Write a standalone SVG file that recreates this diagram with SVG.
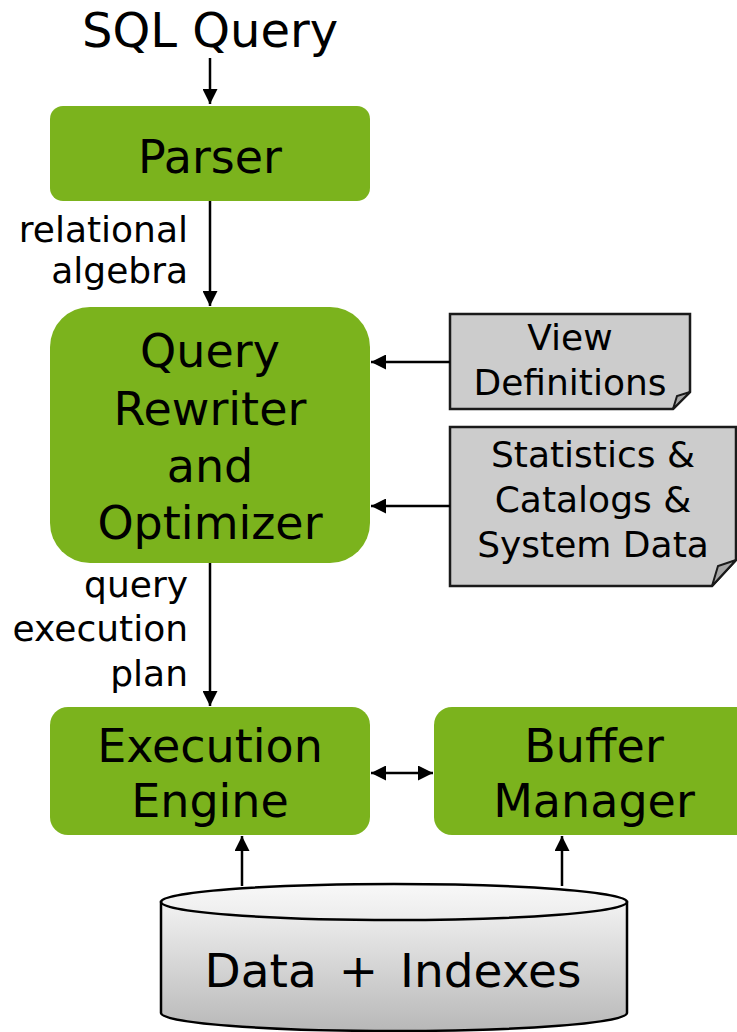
<svg xmlns="http://www.w3.org/2000/svg" width="737" height="1032" viewBox="0 0 737 1032">
  <style>
    text { font-family: "DejaVu Sans", Verdana, sans-serif; fill: #000; }
    .big { font-size: 46px; text-anchor: middle; }
    .lbl { font-size: 36px; text-anchor: end; }
    .doc-t { font-size: 36px; text-anchor: middle; }
    .box { fill: #7bb31d; }
    .doc { fill: #cccccc; stroke: #1a1a1a; stroke-width: 2.5; }
    .fold { fill: #a6a6a6; stroke: #1a1a1a; stroke-width: 2; }
    .wire { stroke: #000; stroke-width: 2.5; fill: none; }
  </style>
  <defs>
    <marker id="head" viewBox="0 0 10 10" refX="10" refY="5" markerWidth="6" markerHeight="6" markerUnits="strokeWidth" orient="auto-start-reverse">
      <path d="M0,0 L10,5 L0,10 z" fill="#000"/>
    </marker>
    <linearGradient id="cylBody" x1="0" y1="0" x2="0" y2="1">
      <stop offset="0" stop-color="#f2f2f2"/>
      <stop offset="1" stop-color="#b8b8b8"/>
    </linearGradient>
    <linearGradient id="cylTop" x1="0" y1="0" x2="0" y2="1">
      <stop offset="0" stop-color="#f8f8f8"/>
      <stop offset="1" stop-color="#ececec"/>
    </linearGradient>
  </defs>

  <g id="input">
    <text x="210" y="47" style="font-size:48px;text-anchor:middle">SQL Query</text>
  </g>

  <g id="parser">
    <rect class="box" x="50" y="106" width="320" height="95" rx="13"/>
    <text class="big" x="210" y="173">Parser</text>
  </g>

  <g id="optimizer">
    <rect class="box" x="50" y="307" width="320" height="256" rx="40"/>
    <text class="big" x="210" y="367">Query</text>
    <text class="big" x="210" y="425">Rewriter</text>
    <text class="big" x="210" y="482">and</text>
    <text class="big" x="210" y="539">Optimizer</text>
  </g>

  <g id="view-definitions">
    <path class="doc" d="M450,314 H690 V392 L673,409 H450 Z"/>
    <path class="fold" d="M690,392 L673,409 L677,396 Z"/>
    <text class="doc-t" x="570" y="350">View</text>
    <text class="doc-t" x="570" y="395">Definitions</text>
  </g>

  <g id="catalogs">
    <path class="doc" d="M450,427 H736 V560 L712,586 H450 Z"/>
    <path class="fold" d="M736,560 L712,586 L718,566 Z"/>
    <text class="doc-t" x="593" y="467">Statistics &amp;</text>
    <text class="doc-t" x="593" y="512">Catalogs &amp;</text>
    <text class="doc-t" x="593" y="557">System Data</text>
  </g>

  <g id="execution-engine">
    <rect class="box" x="50" y="707" width="320" height="128" rx="18"/>
    <text class="big" x="210" y="762">Execution</text>
    <text class="big" x="210" y="817">Engine</text>
  </g>

  <g id="buffer-manager">
    <rect class="box" x="434" y="707" width="320" height="128" rx="18"/>
    <text class="big" x="594" y="762">Buffer</text>
    <text class="big" x="594" y="817">Manager</text>
  </g>

  <g id="storage">
    <path d="M161,902 V1013 A233,18 0 0 0 627,1013 V902 Z" fill="url(#cylBody)" stroke="#000" stroke-width="2.5"/>
    <ellipse cx="394" cy="902" rx="233" ry="18" fill="url(#cylTop)" stroke="#000" stroke-width="2.5"/>
    <text x="393" y="987" style="font-size:47px;text-anchor:middle;word-spacing:7px">Data + Indexes</text>
  </g>

  <g id="connectors">
    <line class="wire" x1="210" y1="58" x2="210" y2="104" marker-end="url(#head)"/>
    <line class="wire" x1="210" y1="201" x2="210" y2="306" marker-end="url(#head)"/>
    <line class="wire" x1="210" y1="563" x2="210" y2="706" marker-end="url(#head)"/>
    <line class="wire" x1="450" y1="362" x2="371" y2="362" marker-end="url(#head)"/>
    <line class="wire" x1="450" y1="506" x2="371" y2="506" marker-end="url(#head)"/>
    <line class="wire" x1="371" y1="773" x2="433" y2="773" marker-start="url(#head)" marker-end="url(#head)"/>
    <line class="wire" x1="242" y1="886" x2="242" y2="836" marker-end="url(#head)"/>
    <line class="wire" x1="562" y1="886" x2="562" y2="836" marker-end="url(#head)"/>
    <text class="lbl" x="188" y="242">relational</text>
    <text class="lbl" x="188" y="283">algebra</text>
    <text class="lbl" x="188" y="597">query</text>
    <text class="lbl" x="188" y="641">execution</text>
    <text class="lbl" x="188" y="686">plan</text>
  </g>
</svg>
